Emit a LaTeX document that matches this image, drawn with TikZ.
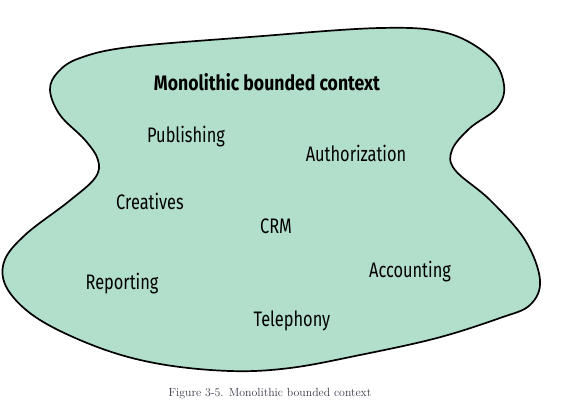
\documentclass[tikz,border=0pt]{standalone}
\usepackage{fontspec}
\newfontfamily\blobfont{Fira Sans}[FakeStretch=0.78]
\newfontfamily\headfont{Fira Sans}[FakeStretch=0.84]
\definecolor{mint}{RGB}{178,223,203}
\definecolor{captiongray}{RGB}{55,55,70}
\begin{document}
\begin{tikzpicture} [x=1pt, y=-1pt,
            subdomain/.style={font=\blobfont\fontsize{21}{24}\selectfont, inner sep=0pt},
            heading/.style={font=\headfont\bfseries\fontsize{21}{24}\selectfont, inner sep=0pt}]
            \useasboundingbox (0,0) rectangle (563,405);

            % the context itself
            \draw[fill=mint, line width=1.7pt] plot[smooth cycle, tension=0.6] coordinates {
                (380,28) (447,33) (490,57) (504,85) (497,108) (470,128) (452,150)
                (455,170) (490,200) (525,240) (540,280) (530,305) (500,318)
                (437,338) (360,355) (290,368) (230,371) (160,364) (100,348)
                (40,320) (8,290) (4,262) (25,235) (68,202) (95,178) (98,160)
                (85,140) (60,115) (50,90) (58,72) (80,58) (130,47) (250,37)};

            \node[heading] (title) at (267,82) {Monolithic bounded context};

            \node[subdomain] (publishing) at (186,137) {Publishing};
            \node[subdomain] (authorization) at (356,153) {Authorization};
            \node[subdomain] (creatives) at (150,201) {Creatives};
            \node[subdomain] (crm) at (276,226) {CRM};
            \node[subdomain] (reporting) at (122,284) {Reporting};
            \node[subdomain] (accounting) at (410,272) {Accounting};
            \node[subdomain] (telephony) at (292,321) {Telephony};

            \node[text=captiongray, font=\fontsize{11.8}{14}\selectfont] (caption) at (270,394) {Figure 3-5. Monolithic bounded context};
        \end{tikzpicture}
\end{document}
